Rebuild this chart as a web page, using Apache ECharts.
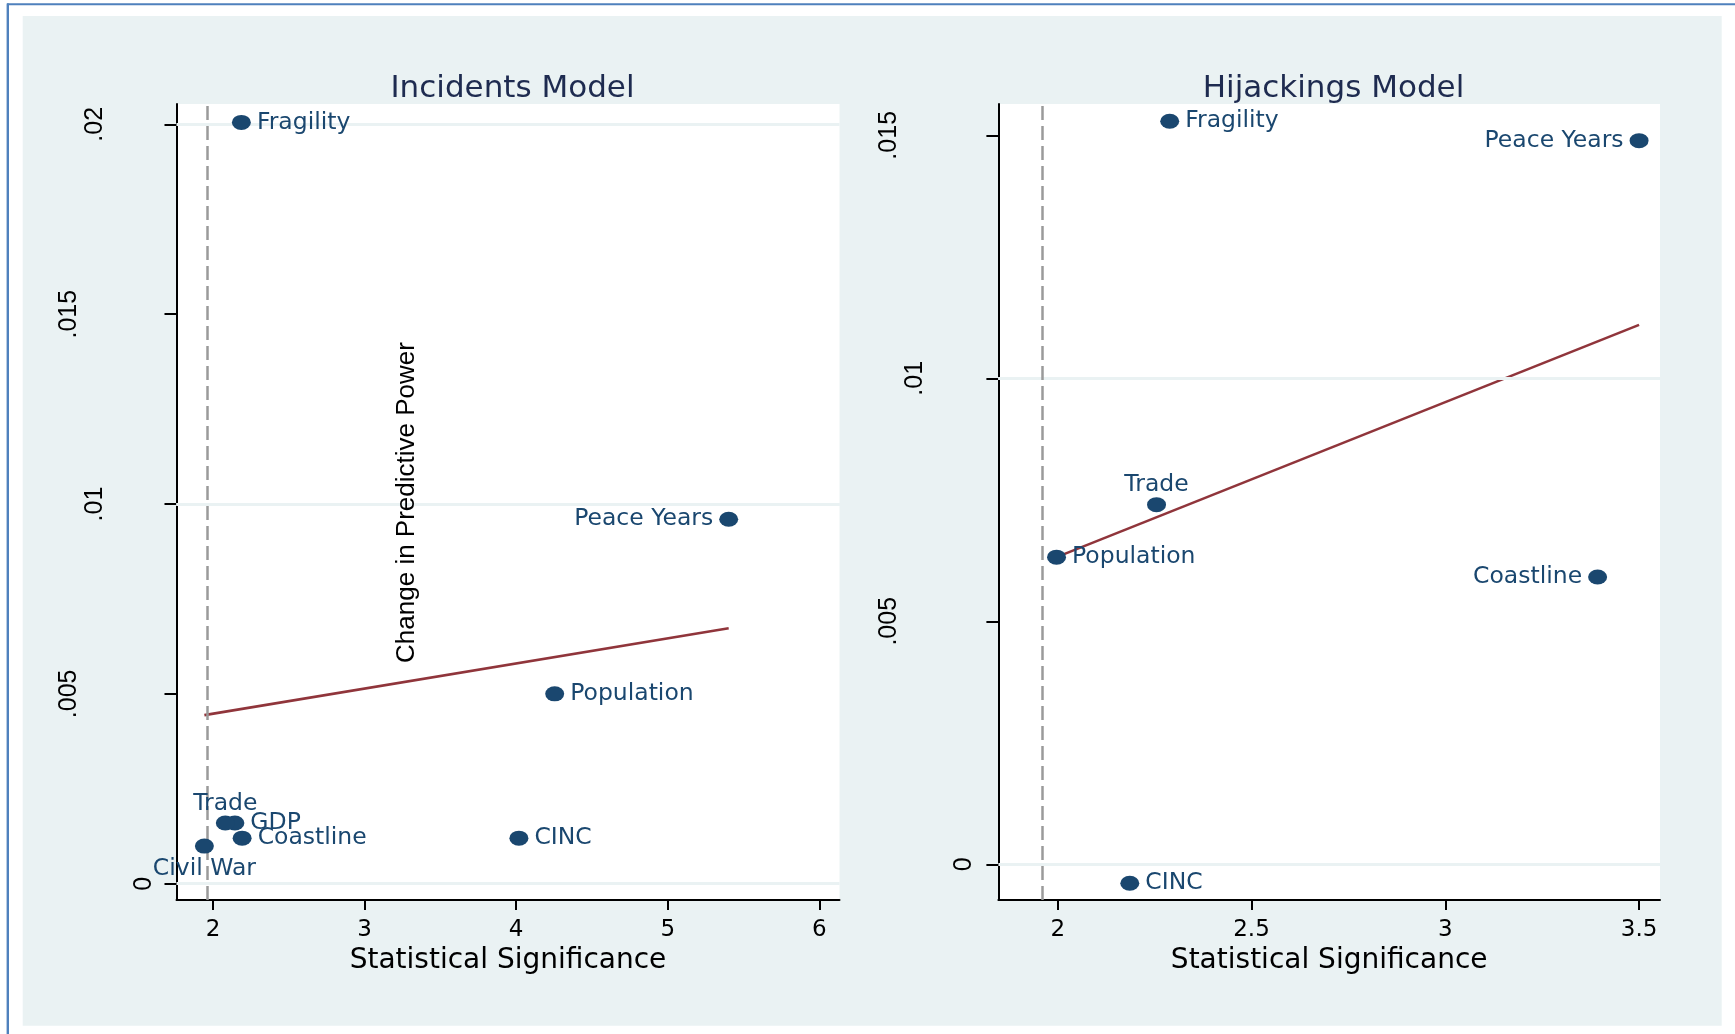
<!DOCTYPE html>
<html>
<head>
<meta charset="utf-8">
<script src="https://cdn.jsdelivr.net/npm/echarts@6/dist/echarts.min.js"></script>
<style>
html,body{margin:0;padding:0;background:#fff;}
#chart{width:1735px;height:1034px;}
</style>
</head>
<body>
<div id="chart"></div>
<script>
// ---------- data ----------
const CRITICAL_VALUE = 1.96;

const incNames = ['Fragility', 'Peace Years', 'Population', 'CINC', 'Coastline', 'GDP', 'Trade', 'Civil War'];
const incX     = [2.187, 5.402, 4.254, 4.018, 2.192, 2.144, 2.081, 1.943];
const incY     = [0.02005, 0.0096, 0.0050, 0.0012, 0.0012, 0.0016, 0.0016, 0.00099];
const incFitX  = [1.943, 5.402];
const incFitY  = [0.00444, 0.00673];

const hijNames = ['Fragility', 'Peace Years', 'Trade', 'Population', 'Coastline', 'CINC'];
const hijX     = [2.289, 3.5, 2.255, 1.997, 3.393, 2.186];
const hijY     = [0.01529, 0.01489, 0.0074, 0.00632, 0.00591, -0.00039];
const hijFitX  = [1.997, 3.5];
const hijFitY  = [0.00632, 0.0111];

const incXTicks = [2, 3, 4, 5, 6];
const incXTickLabels = ['2', '3', '4', '5', '6'];
const incYTicks = [0, 0.005, 0.01, 0.015, 0.02];
const incYTickLabels = ['0', '.005', '.01', '.015', '.02'];
const hijXTicks = [2, 2.5, 3, 3.5];
const hijXTickLabels = ['2', '2.5', '3', '3.5'];
const hijYTicks = [0, 0.005, 0.01, 0.015];
const hijYTickLabels = ['0', '.005', '.01', '.015'];

const panelTitles = ['Incidents Model', 'Hijackings Model'];
const xTitle = 'Statistical Significance';
const yTitle = 'Change in Predictive Power';

// ---------- styling / layout ----------
const incLabelPos = ['right', 'left', 'right', 'right', 'right', 'right', 'top', 'bottom'];
const hijLabelPos = ['right', 'left', 'top', 'right', 'left', 'right'];

const NAVY = '#1A476F';
const MAROON = '#90353B';
const PANEL = '#EAF2F3';
const TITLE_C = '#1E2B50';
const HFONT = 'DejaVu Sans';
const VFONT = 'Liberation Sans';

function lookup(ticks, labels) {
  return function (v) {
    for (let i = 0; i < ticks.length; i++) if (Math.abs(ticks[i] - v) < 1e-9) return labels[i];
    return '';
  };
}
// rotated y tick labels are shifted away from the axis according to their length (Stata style)
function yLabelFmt(ticks, labels) {
  const f = lookup(ticks, labels);
  return function (v) {
    const s = f(v);
    const key = s.length <= 1 ? 'a' : (s.length === 3 ? 'b' : 'c');
    return '{' + key + '|' + s + '}';
  };
}
const yRichBase = { color: '#000', fontSize: 25, fontFamily: VFONT };
const yRich = {
  a: Object.assign({ padding: [0, 0, 0, 0] }, yRichBase),
  b: Object.assign({ padding: [0, 0, 49, 0] }, yRichBase),
  c: Object.assign({ padding: [0, 0, 75, 0] }, yRichBase)
};

function xAxisOf(gi, min, max, ticks, labels) {
  return {
    type: 'value', gridIndex: gi, min: min, max: max,
    axisLine: { show: true, onZero: false, lineStyle: { color: '#000', width: 2 } },
    axisTick: { show: true, length: 10, customValues: ticks, lineStyle: { color: '#000', width: 2 } },
    axisLabel: { customValues: ticks, formatter: lookup(ticks, labels), margin: 19,
      color: '#000', fontSize: 23, fontFamily: HFONT },
    splitLine: { show: false },
    name: xTitle, nameLocation: 'middle', nameGap: 38,
    nameTextStyle: { color: '#000', fontSize: 28, fontFamily: HFONT }
  };
}
function yAxisOf(gi, min, max, ticks, labels, margin) {
  return {
    type: 'value', gridIndex: gi, min: min, max: max,
    axisLine: { show: true, onZero: false, lineStyle: { color: '#000', width: 2 } },
    axisTick: { show: true, length: 12, customValues: ticks, lineStyle: { color: '#000', width: 2 } },
    axisLabel: { customValues: ticks, formatter: yLabelFmt(ticks, labels), margin: margin, rotate: 90,
      color: '#000', fontSize: 25, fontFamily: VFONT, rich: yRich },
    splitLine: { show: false }
  };
}
function scatterOf(gi, names, xs, ys, pos) {
  return {
    type: 'scatter', xAxisIndex: gi, yAxisIndex: gi, z: 5,
    symbol: 'circle', symbolSize: [19, 15],
    itemStyle: { color: NAVY, opacity: 1 },
    label: { show: true, formatter: '{b}', color: NAVY, fontSize: 23.5, fontFamily: HFONT },
    emphasis: { disabled: true },
    data: names.map((n, i) => ({
      name: n, value: [xs[i], ys[i]],
      label: { position: pos[i], distance: pos[i] === 'top' ? 0 : (pos[i] === 'bottom' ? 3 : 6) }
    }))
  };
}
function fitOf(gi, xs, ys) {
  return {
    type: 'line', xAxisIndex: gi, yAxisIndex: gi, z: 4, symbol: 'none',
    lineStyle: { color: MAROON, width: 2.6 }, emphasis: { disabled: true },
    data: xs.map((x, i) => [x, ys[i]])
  };
}
function refLinesOf(gi, yticks) {
  return {
    type: 'line', xAxisIndex: gi, yAxisIndex: gi, z: 1, data: [], silent: true,
    markLine: {
      silent: true, symbol: 'none', label: { show: false }, animation: false,
      emphasis: { disabled: true },
      data: yticks.map(v => ({ yAxis: v, lineStyle: { color: PANEL, width: 3, type: 'solid' } }))
        .concat([{ xAxis: CRITICAL_VALUE, lineStyle: { color: '#9a9a9a', width: 2.5, type: [14, 6] } }])
    }
  };
}

const chart = echarts.init(document.getElementById('chart'), null, { renderer: 'canvas' });
chart.setOption({
  animation: false,
  backgroundColor: PANEL,
  title: [
    { text: panelTitles[0], left: 507.5, top: 68, textAlign: 'center',
      textStyle: { color: TITLE_C, fontSize: 31, fontWeight: 'normal', fontFamily: HFONT } },
    { text: panelTitles[1], left: 1328.5, top: 68, textAlign: 'center',
      textStyle: { color: TITLE_C, fontSize: 31, fontWeight: 'normal', fontFamily: HFONT } }
  ],
  grid: [
    { left: 176.5, top: 104, width: 663, height: 796, show: true, backgroundColor: '#fff', borderWidth: 0,
      containLabel: false, outerBoundsMode: 'none' },
    { left: 998.4, top: 104, width: 661.6, height: 796, show: true, backgroundColor: '#fff', borderWidth: 0,
      containLabel: false, outerBoundsMode: 'none' }
  ],
  xAxis: [
    xAxisOf(0, 1.759, 6.133, incXTicks, incXTickLabels),
    xAxisOf(1, 1.847, 3.554, hijXTicks, hijXTickLabels)
  ],
  yAxis: [
    yAxisOf(0, -0.000429, 0.020535, incYTicks, incYTickLabels, 20),
    yAxisOf(1, -0.000735, 0.015644, hijYTicks, hijYTickLabels, 22)
  ],
  series: [
    refLinesOf(0, incYTicks),
    refLinesOf(1, hijYTicks),
    fitOf(0, incFitX, incFitY),
    fitOf(1, hijFitX, hijFitY),
    scatterOf(0, incNames, incX, incY, incLabelPos),
    scatterOf(1, hijNames, hijX, hijY, hijLabelPos)
  ],
  graphic: [
    { type: 'rect', shape: { x: 0, y: 0, width: 1735, height: 16 }, style: { fill: '#fff' }, silent: true },
    { type: 'rect', shape: { x: 0, y: 0, width: 22.7, height: 1034 }, style: { fill: '#fff' }, silent: true },
    { type: 'rect', shape: { x: 1721.7, y: 0, width: 14, height: 1034 }, style: { fill: '#fff' }, silent: true },
    { type: 'rect', shape: { x: 0, y: 1025.7, width: 1735, height: 9 }, style: { fill: '#fff' }, silent: true },
    { type: 'line', shape: { x1: 7, y1: 4.3, x2: 1735, y2: 4.3 }, style: { stroke: '#4F81BD', lineWidth: 2 }, silent: true },
    { type: 'line', shape: { x1: 7.8, y1: 3.5, x2: 7.8, y2: 1034 }, style: { stroke: '#4F81BD', lineWidth: 2.4 }, silent: true },
    { type: 'text', x: 407, y: 502.5, rotation: Math.PI / 2, z: 10, silent: true,
      style: { text: yTitle, fill: '#000', font: '26px "Liberation Sans"', align: 'center', verticalAlign: 'middle' } }
  ]
});
</script>
</body>
</html>
